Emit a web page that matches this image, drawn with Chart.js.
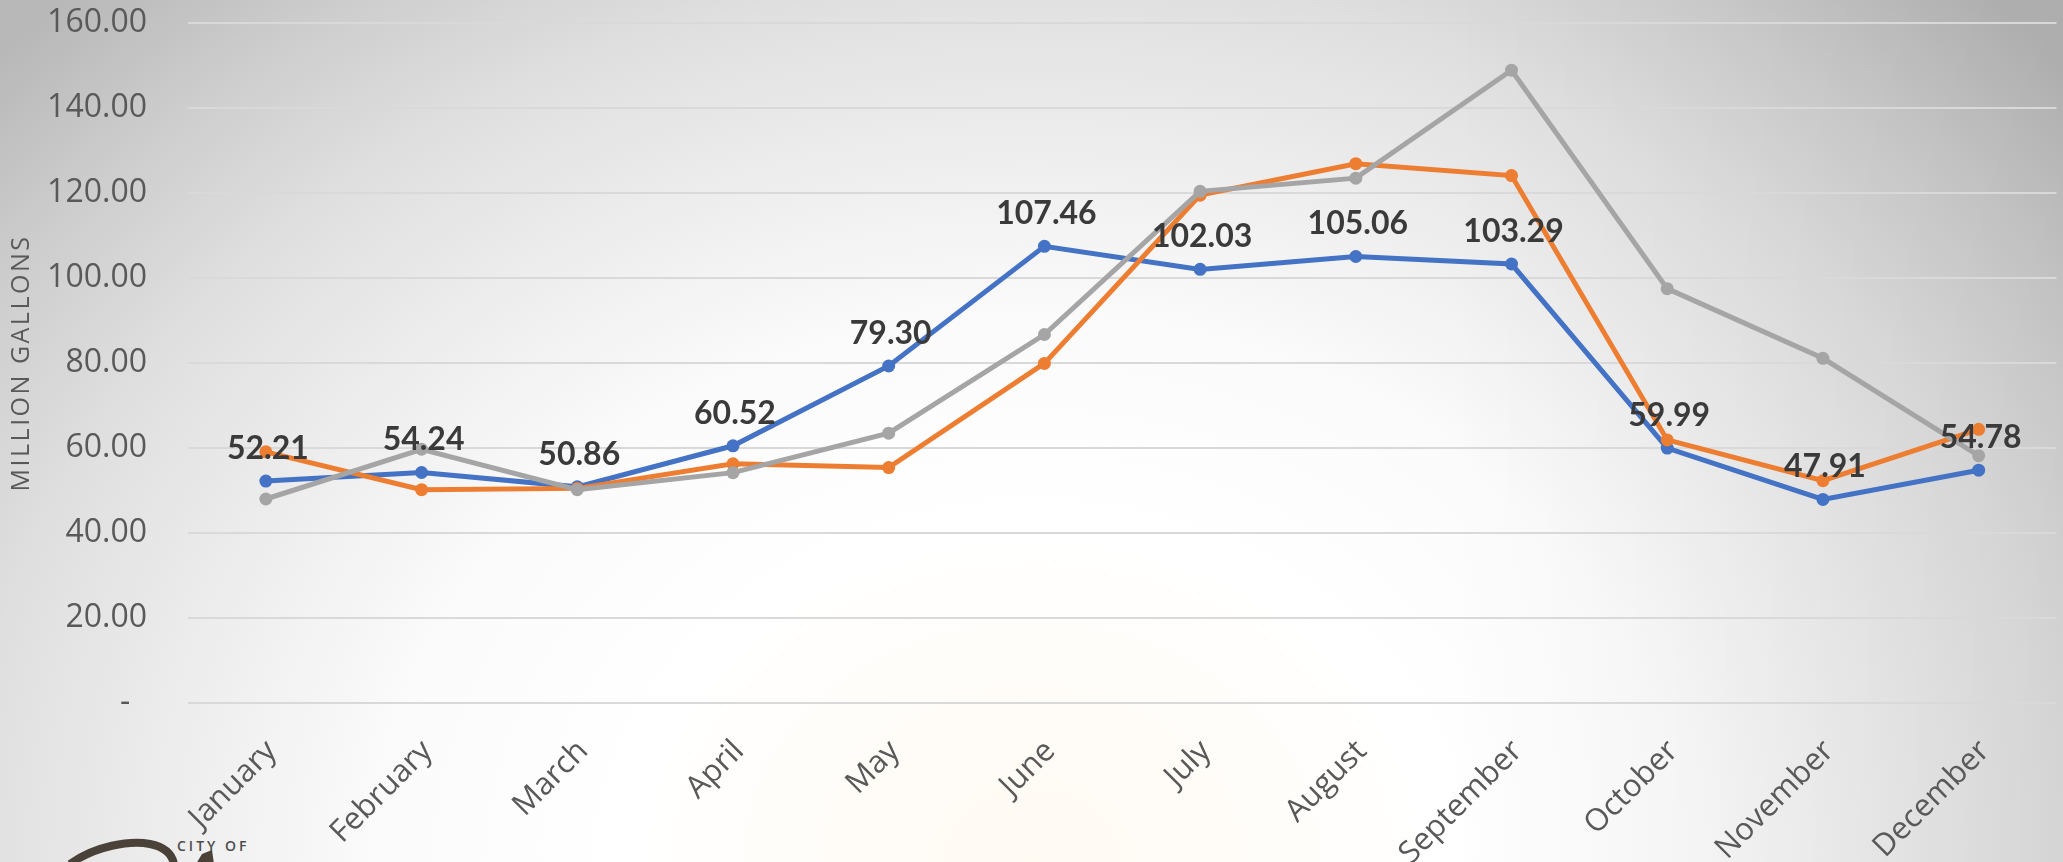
<!DOCTYPE html>
<html>
<head>
<meta charset="utf-8">
<script src="https://cdn.jsdelivr.net/npm/chart.js@4.4.1/dist/chart.umd.min.js"></script>
<style>
  html, body { margin: 0; padding: 0; }
  body {
    width: 2063px; height: 862px; overflow: hidden; position: relative;
    background:
      linear-gradient(90deg, rgba(0,0,0,0) 70%, rgba(0,0,0,0.06) 100%),
      radial-gradient(ellipse 1350px 1120px at 50% 100%,
        #fffaf2 0%, #ffffff 30%, #fbfbfb 48%, #efefef 62%, #e0e0e0 78%, #cdcdcd 92%, #b8b8b8 105%);
  }
  #wrap { position: absolute; left: 0; top: 0; width: 2063px; height: 862px; }
  #logo { position: absolute; left: 0; top: 780px; width: 400px; height: 82px; }
  #logo span {
    position: absolute; left: 177px; top: 56px;
    font: 600 14px 'Open Sans', sans-serif; letter-spacing: 3px; color: #4d4d4d;
  }
</style>
</head>
<body>
<div id="logo">
  <svg width="400" height="82">
    <path d="M70 84 C 95 66, 130 60, 150 64 C 165 67, 172 74, 174 84" fill="none" stroke="#4a4238" stroke-width="8"/>
    <path d="M196 84 L 202 74 L 212 70 L 214 84 Z" fill="#4a4238"/>
  </svg>
  <span>CITY OF</span>
</div>
<div id="wrap"><canvas id="chart"></canvas></div>
<script>
// monthly production, million gallons
const months = ['January', 'February', 'March', 'April', 'May', 'June',
  'July', 'August', 'September', 'October', 'November', 'December'];
const blueVals = [52.21, 54.24, 50.86, 60.52, 79.30, 107.46, 102.03, 105.06, 103.29, 59.99, 47.91, 54.78];
const orangeVals = [59.1, 50.2, 50.5, 56.3, 55.4, 79.9, 119.5, 126.9, 124.1, 61.9, 52.3, 64.4];
const grayVals = [48.0, 59.7, 50.2, 54.2, 63.5, 86.7, 120.4, 123.5, 148.9, 97.5, 81.1, 58.2];

const yMax = 160;
const yStep = 20;
const yTitle = 'MILLION GALLONS';

// data labels above the blue series
const valueLabels = {
  id: 'valueLabels',
  afterDatasetsDraw(chart) {
    const ctx = chart.ctx;
    const meta = chart.getDatasetMeta(0);
    ctx.save();
    ctx.font = 'bold 32px Lato, sans-serif';
    ctx.fillStyle = '#3a3a3a';
    ctx.textAlign = 'center';
    ctx.textBaseline = 'alphabetic';
    meta.data.forEach((pt, i) => {
      ctx.fillText(blueVals[i].toFixed(2), pt.x + 2, pt.y - 22);
    });
    ctx.restore();
  }
};

// y axis title, letter-spaced like the original
const axisTitle = {
  id: 'axisTitle',
  afterDraw(chart) {
    const ctx = chart.ctx;
    const area = chart.chartArea;
    ctx.save();
    ctx.translate(22, (area.top + area.bottom) / 2);
    ctx.rotate(-Math.PI / 2);
    ctx.font = '25px "Open Sans", sans-serif';
    ctx.letterSpacing = '2.5px';
    ctx.fillStyle = '#595959';
    ctx.textAlign = 'center';
    ctx.textBaseline = 'middle';
    ctx.fillText(yTitle, 0, 0);
    ctx.restore();
  }
};

function lineSet(data, color, order) {
  return {
    data,
    borderColor: color,
    backgroundColor: color,
    borderWidth: 5,
    pointRadius: 6.5,
    pointHoverRadius: 6.5,
    pointBorderWidth: 0,
    tension: 0,
    order
  };
}

new Chart(document.getElementById('chart'), {
  type: 'line',
  data: {
    labels: months,
    datasets: [
      lineSet(blueVals, '#4472C4', 2),
      lineSet(orangeVals, '#ED7D31', 1),
      lineSet(grayVals, '#A5A5A5', 0)
    ]
  },
  options: {
    responsive: true,
    maintainAspectRatio: false,
    animation: false,
    layout: { padding: { top: 23, right: 0, left: 0, bottom: 0 } },
    plugins: {
      legend: { display: false },
      tooltip: { enabled: false }
    },
    scales: {
      x: {
        offset: true,
        grid: { display: false, drawTicks: false },
        border: { display: false },
        afterFit: (scale) => { scale.height = 159; },
        ticks: {
          autoSkip: false,
          minRotation: 45,
          maxRotation: 45,
          padding: 30,
          labelOffset: 6,
          color: '#595959',
          font: { family: 'Open Sans', size: 31 }
        }
      },
      y: {
        min: 0,
        max: yMax,
        afterFit: (scale) => {
          scale.width = 188;
          scale.paddingTop = 0;
          scale.paddingBottom = 0;
        },
        grid: { color: '#d9d9d9', lineWidth: 2, drawTicks: false },
        border: { display: false },
        ticks: {
          stepSize: yStep,
          padding: 41,
          color: '#595959',
          font: { family: 'Open Sans', size: 32 },
          callback: (v) => v === 0 ? '-  ' : v.toFixed(2)
        }
      }
    }
  },
  plugins: [valueLabels, axisTitle]
});
</script>
</body>
</html>
